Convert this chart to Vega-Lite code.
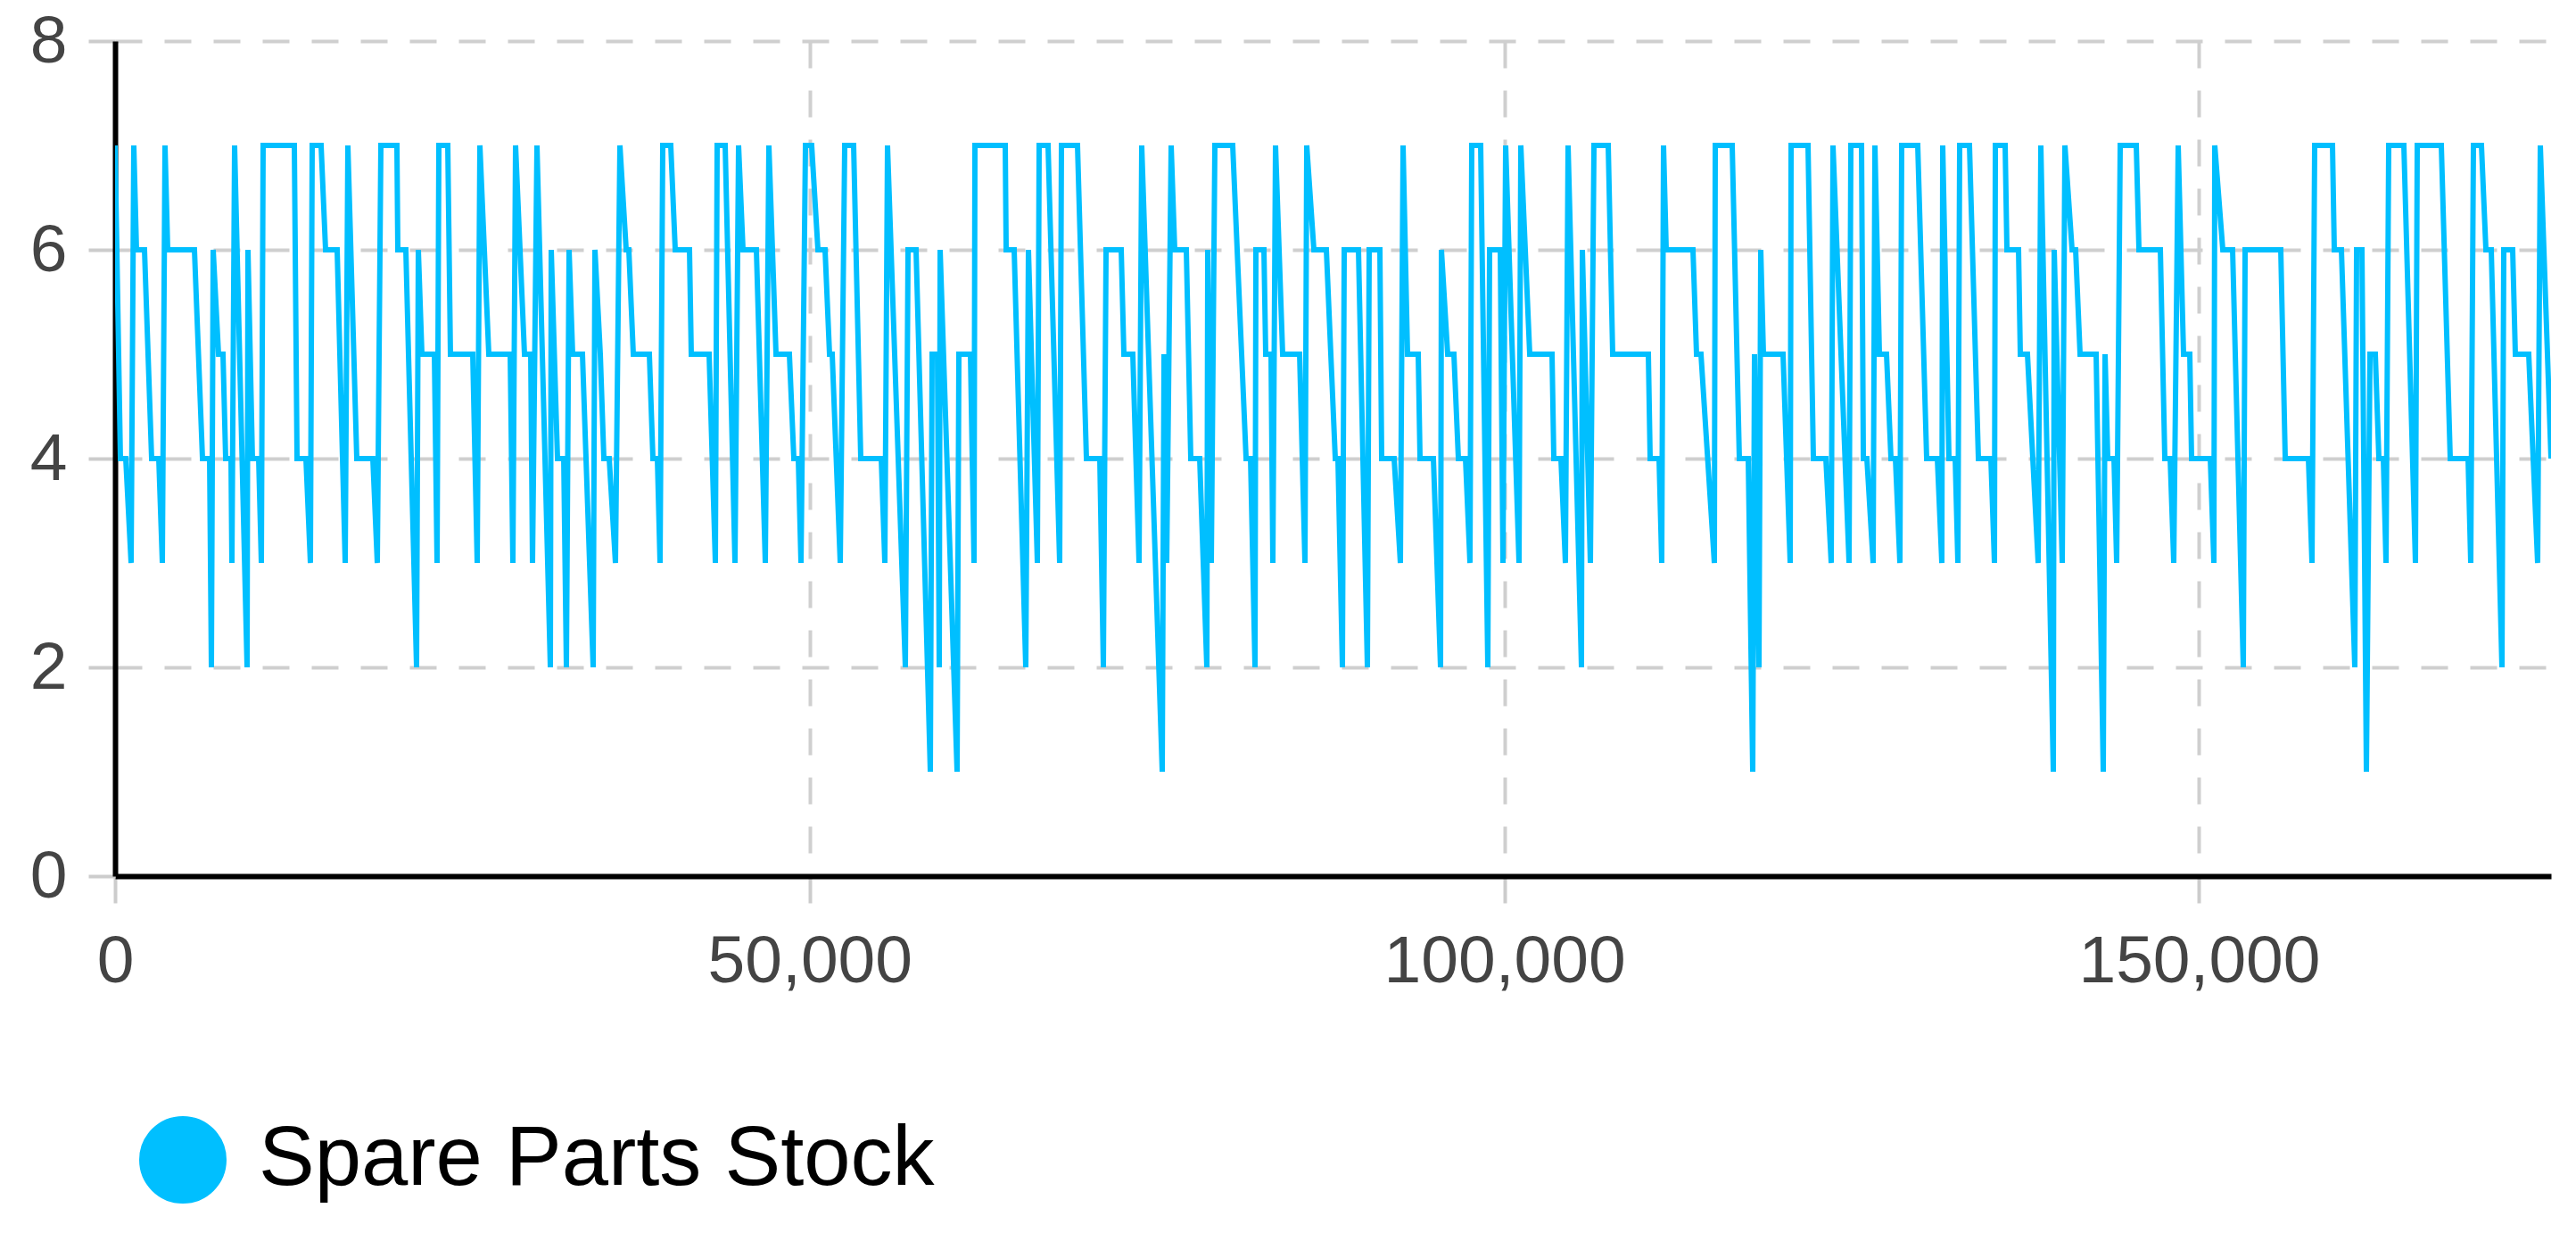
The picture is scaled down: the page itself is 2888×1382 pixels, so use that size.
{
  "$schema": "https://vega.github.io/schema/vega-lite/v6.json",
  "width": 2731,
  "height": 936,
  "autosize": {"type": "none"},
  "padding": {"left": 129, "top": 46, "right": 28, "bottom": 400},
  "background": "white",
  "config": {
    "view": {"stroke": null},
    "axis": {
      "domainColor": "#000000",
      "domainWidth": 6,
      "tickColor": "#cccccc",
      "tickWidth": 4,
      "tickSize": 30,
      "gridColor": "#cfcfcf",
      "gridDash": [30, 25],
      "gridWidth": 4,
      "labelFont": "Liberation Sans",
      "labelFontSize": 75,
      "labelColor": "#444444",
      "labelLimit": 1000,
      "title": null
    }
  },
  "data": {
    "values": [
      {"t":0,"stock":7},{"t":385,"stock":4},{"t":770,"stock":4},{"t":1156,"stock":3},{"t":1348,"stock":7},{"t":1541,"stock":6},{"t":2119,"stock":6},{"t":2632,"stock":4},{"t":3146,"stock":4},{"t":3403,"stock":3},{"t":3595,"stock":7},{"t":3788,"stock":6},{"t":5714,"stock":6},{"t":6292,"stock":4},{"t":6805,"stock":4},{"t":6934,"stock":2},{"t":7062,"stock":6},{"t":7447,"stock":5},{"t":7768,"stock":5},{"t":7961,"stock":4},{"t":8346,"stock":4},{"t":8410,"stock":3},{"t":8603,"stock":7},{"t":9502,"stock":2},{"t":9566,"stock":6},{"t":9887,"stock":4},{"t":10336,"stock":4},{"t":10529,"stock":3},{"t":10657,"stock":7},{"t":12904,"stock":7},{"t":13097,"stock":4},{"t":13739,"stock":4},{"t":14060,"stock":3},{"t":14188,"stock":7},{"t":14830,"stock":7},{"t":15151,"stock":6},{"t":15986,"stock":6},{"t":16564,"stock":3},{"t":16756,"stock":7},
      {"t":17398,"stock":4},{"t":18554,"stock":4},{"t":18875,"stock":3},{"t":19132,"stock":7},{"t":20287,"stock":7},{"t":20351,"stock":6},{"t":20929,"stock":6},{"t":21700,"stock":2},{"t":21828,"stock":6},{"t":22085,"stock":5},{"t":22984,"stock":5},{"t":23176,"stock":3},{"t":23305,"stock":7},{"t":23947,"stock":7},{"t":24139,"stock":5},{"t":25744,"stock":5},{"t":26065,"stock":3},{"t":26258,"stock":7},{"t":26900,"stock":5},{"t":28441,"stock":5},{"t":28633,"stock":3},{"t":28826,"stock":7},{"t":29468,"stock":5},{"t":29917,"stock":5},{"t":30046,"stock":3},{"t":30367,"stock":7},{"t":31330,"stock":2},{"t":31394,"stock":6},{"t":31843,"stock":4},{"t":32293,"stock":4},{"t":32485,"stock":2},{"t":32678,"stock":6},{"t":32935,"stock":5},{"t":33641,"stock":5},{"t":34411,"stock":2},{"t":34540,"stock":6},{"t":34925,"stock":5},
      {"t":35182,"stock":4},{"t":35567,"stock":4},{"t":36016,"stock":3},{"t":36337,"stock":7},{"t":36787,"stock":6},{"t":36979,"stock":6},{"t":37300,"stock":5},{"t":38456,"stock":5},{"t":38713,"stock":4},{"t":39034,"stock":4},{"t":39226,"stock":3},{"t":39419,"stock":7},{"t":39997,"stock":7},{"t":40318,"stock":6},{"t":41345,"stock":6},{"t":41473,"stock":5},{"t":42757,"stock":5},{"t":43207,"stock":3},{"t":43335,"stock":7},{"t":43913,"stock":7},{"t":44619,"stock":3},{"t":44876,"stock":7},{"t":45197,"stock":6},{"t":46160,"stock":6},{"t":46802,"stock":3},{"t":47059,"stock":7},{"t":47572,"stock":5},{"t":48535,"stock":5},{"t":48856,"stock":4},{"t":49177,"stock":4},{"t":49370,"stock":3},{"t":49691,"stock":7},{"t":50140,"stock":7},{"t":50590,"stock":6},{"t":51103,"stock":6},{"t":51424,"stock":5},{"t":51617,"stock":5},{"t":52195,"stock":3},{"t":52516,"stock":7},
      {"t":53158,"stock":7},{"t":53671,"stock":4},{"t":55148,"stock":4},{"t":55405,"stock":3},{"t":55597,"stock":7},{"t":56881,"stock":2},{"t":57074,"stock":6},{"t":57652,"stock":6},{"t":58679,"stock":1},{"t":58807,"stock":5},{"t":59192,"stock":5},{"t":59321,"stock":2},{"t":59385,"stock":6},{"t":60605,"stock":1},{"t":60733,"stock":5},{"t":61568,"stock":5},{"t":61825,"stock":3},{"t":61889,"stock":7},{"t":64072,"stock":7},{"t":64136,"stock":6},{"t":64714,"stock":6},{"t":65548,"stock":2},{"t":65741,"stock":6},{"t":66383,"stock":3},{"t":66511,"stock":7},{"t":67153,"stock":7},{"t":67988,"stock":3},{"t":68116,"stock":7},{"t":69272,"stock":7},{"t":69914,"stock":4},
      {"t":70877,"stock":4},{"t":71134,"stock":2},{"t":71326,"stock":6},{"t":72418,"stock":6},{"t":72610,"stock":5},{"t":73252,"stock":5},{"t":73702,"stock":3},{"t":73894,"stock":7},{"t":75371,"stock":1},{"t":75499,"stock":5},{"t":75692,"stock":3},{"t":76013,"stock":7},{"t":76270,"stock":6},{"t":77104,"stock":6},{"t":77425,"stock":4},{"t":78067,"stock":4},{"t":78581,"stock":2},{"t":78645,"stock":6},{"t":78902,"stock":3},{"t":79159,"stock":7},{"t":80443,"stock":7},{"t":81406,"stock":4},{"t":81727,"stock":4},{"t":82048,"stock":2},{"t":82112,"stock":6},{"t":82690,"stock":6},{"t":82818,"stock":5},{"t":83203,"stock":5},{"t":83332,"stock":3},{"t":83524,"stock":7},{"t":84038,"stock":5},{"t":85258,"stock":5},{"t":85643,"stock":3},{"t":85771,"stock":7},{"t":86285,"stock":6},{"t":87184,"stock":6},{"t":87826,"stock":4},
      {"t":88018,"stock":4},{"t":88339,"stock":2},{"t":88468,"stock":6},{"t":89495,"stock":6},{"t":90137,"stock":2},{"t":90265,"stock":6},{"t":91036,"stock":6},{"t":91164,"stock":4},{"t":92063,"stock":4},{"t":92512,"stock":3},{"t":92705,"stock":7},{"t":93026,"stock":5},{"t":93796,"stock":5},{"t":93925,"stock":4},{"t":94888,"stock":4},{"t":95401,"stock":2},{"t":95465,"stock":6},{"t":95915,"stock":5},{"t":96364,"stock":5},{"t":96685,"stock":4},{"t":97199,"stock":4},{"t":97520,"stock":3},{"t":97648,"stock":7},{"t":98290,"stock":7},{"t":98804,"stock":2},{"t":98932,"stock":6},{"t":99703,"stock":6},{"t":99895,"stock":3},{"t":100088,"stock":7},{"t":101051,"stock":3},{"t":101179,"stock":7},{"t":101821,"stock":5},{"t":103426,"stock":5},{"t":103554,"stock":4},{"t":104068,"stock":4},{"t":104389,"stock":3},{"t":104581,"stock":7},{"t":105544,"stock":2},{"t":105609,"stock":6},
      {"t":106187,"stock":3},{"t":106444,"stock":7},{"t":107471,"stock":7},{"t":107792,"stock":5},{"t":110360,"stock":5},{"t":110488,"stock":4},{"t":111130,"stock":4},{"t":111322,"stock":3},{"t":111451,"stock":7},{"t":111644,"stock":6},{"t":113570,"stock":6},{"t":113826,"stock":5},{"t":114147,"stock":5},{"t":115110,"stock":3},{"t":115175,"stock":7},{"t":116394,"stock":7},{"t":116908,"stock":4},{"t":117550,"stock":4},{"t":117871,"stock":1},{"t":117999,"stock":5},{"t":118320,"stock":2},{"t":118449,"stock":6},{"t":118642,"stock":5},{"t":120054,"stock":5},{"t":120568,"stock":3},{"t":120632,"stock":7},{"t":121852,"stock":7},{"t":122237,"stock":4},{"t":123136,"stock":4},
      {"t":123521,"stock":3},{"t":123649,"stock":7},{"t":124805,"stock":3},{"t":124933,"stock":7},{"t":125704,"stock":7},{"t":125832,"stock":4},{"t":126089,"stock":4},{"t":126538,"stock":3},{"t":126667,"stock":7},{"t":126988,"stock":5},{"t":127501,"stock":5},{"t":127822,"stock":4},{"t":128143,"stock":4},{"t":128464,"stock":3},{"t":128593,"stock":7},{"t":129748,"stock":7},{"t":130390,"stock":4},{"t":131161,"stock":4},{"t":131482,"stock":3},{"t":131546,"stock":7},{"t":131995,"stock":4},{"t":132445,"stock":4},{"t":132637,"stock":3},{"t":132766,"stock":7},{"t":133472,"stock":7},{"t":134114,"stock":4},{"t":135013,"stock":4},{"t":135269,"stock":3},{"t":135334,"stock":7},{"t":136040,"stock":7},{"t":136168,"stock":6},{"t":137003,"stock":6},{"t":137131,"stock":5},{"t":137645,"stock":5},{"t":138415,"stock":3},{"t":138608,"stock":7},{"t":139507,"stock":1},{"t":139571,"stock":6},{"t":140149,"stock":3},{"t":140341,"stock":7},{"t":140855,"stock":6},
      {"t":141112,"stock":6},{"t":141433,"stock":5},{"t":142589,"stock":5},{"t":143102,"stock":1},{"t":143231,"stock":5},{"t":143424,"stock":4},{"t":143873,"stock":4},{"t":144066,"stock":3},{"t":144322,"stock":7},{"t":145478,"stock":7},{"t":145671,"stock":6},{"t":147211,"stock":6},{"t":147532,"stock":4},{"t":147917,"stock":4},{"t":148174,"stock":3},{"t":148495,"stock":7},{"t":148880,"stock":5},{"t":149329,"stock":5},{"t":149458,"stock":4},{"t":150806,"stock":4},{"t":151063,"stock":3},{"t":151127,"stock":7},{"t":151705,"stock":6},{"t":152411,"stock":6},{"t":153181,"stock":2},{"t":153310,"stock":6},{"t":155878,"stock":6},{"t":156199,"stock":4},{"t":157868,"stock":4},{"t":158125,"stock":3},{"t":158317,"stock":7},
      {"t":159601,"stock":7},{"t":159729,"stock":6},{"t":160243,"stock":6},{"t":161206,"stock":2},{"t":161334,"stock":6},{"t":161720,"stock":6},{"t":162041,"stock":1},{"t":162298,"stock":5},{"t":162683,"stock":5},{"t":162939,"stock":4},{"t":163260,"stock":4},{"t":163453,"stock":3},{"t":163646,"stock":7},{"t":164737,"stock":7},{"t":165571,"stock":3},{"t":165700,"stock":7},{"t":167433,"stock":7},{"t":168075,"stock":4},{"t":169359,"stock":4},{"t":169551,"stock":3},{"t":169744,"stock":7},{"t":170322,"stock":7},{"t":170643,"stock":6},{"t":171028,"stock":6},{"t":171798,"stock":2},{"t":171927,"stock":6},{"t":172569,"stock":6},{"t":172761,"stock":5},{"t":173724,"stock":5},{"t":174366,"stock":3},{"t":174559,"stock":7},{"t":175329,"stock":4}
    ]
  },
  "mark": {"type": "line", "strokeWidth": 6, "strokeJoin": "miter", "clip": true},
  "encoding": {
    "x": {
      "field": "t",
      "type": "quantitative",
      "scale": {"domain": [0, 175329], "nice": false},
      "axis": {"values": [0, 50000, 100000, 150000], "format": ",d", "labelPadding": 29, "labelFlush": false}
    },
    "y": {
      "field": "stock",
      "type": "quantitative",
      "scale": {"domain": [0, 8], "nice": false},
      "axis": {"values": [0, 2, 4, 6, 8], "labelPadding": 24}
    },
    "color": {
      "datum": "Spare Parts Stock",
      "type": "nominal",
      "scale": {"range": ["#00BFFF"]},
      "legend": {
        "orient": "none",
        "legendX": 27,
        "legendY": 1205,
        "title": null,
        "padding": 0,
        "symbolType": "circle",
        "symbolSize": 9300,
        "labelFont": "Liberation Sans",
        "labelFontSize": 94,
        "labelColor": "#000000",
        "labelOffset": 36,
        "labelLimit": 2000,
        "encode": {
          "symbols": {"update": {"fill": {"value": "#00BFFF"}, "stroke": {"value": "transparent"}, "opacity": {"value": 1}}}
        }
      }
    }
  }
}
